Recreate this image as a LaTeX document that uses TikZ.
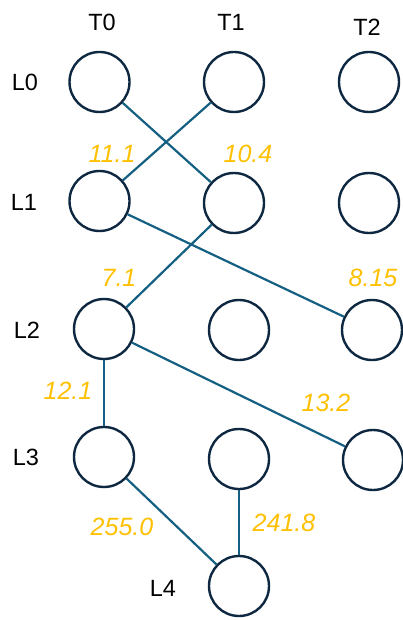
\documentclass[tikz,border=0pt]{standalone}
\usepackage{fontspec}
\setmainfont{Liberation Sans}
\definecolor{ringcol}{HTML}{0E2841}
\definecolor{linkcol}{HTML}{156082}
\definecolor{costcol}{HTML}{FFC000}
\tikzset{
  slot/.style={circle,draw=ringcol,line width=2.4pt,minimum size=60pt,inner sep=0pt},
  tag/.style={inner sep=0pt,font=\fontsize{23.5}{28}\selectfont},
  cost/.style={inner sep=0pt,text=costcol,font=\fontsize{25}{30}\selectfont\itshape},
  link/.style={draw=linkcol,line width=2.2pt}
}
\begin{document}
\begin{tikzpicture}[x=1pt,y=-1pt]
      \useasboundingbox (0,0) rectangle (403,620);
      % column and layer headings
      \draw
        (102,22) node[tag] (T0){T0}
        (231,22) node[tag] (T1){T1}
        (367,27) node[tag] (T2){T2}
        (25,82) node[tag] (L0){L0}
        (24,202) node[tag] (L1){L1}
        (27,330) node[tag] (L2){L2}
        (26,457) node[tag] (L3){L3}
        (163,588) node[tag] (L4){L4};
      % one circle per layer and column
      \draw
        (99.5,82) node[slot] (00){}
        (234,82) node[slot] (01){}
        (369,82) node[slot] (02){}
        (99.5,201) node[slot] (10){}
        (234,203) node[slot] (11){}
        (369,203) node[slot] (12){}
        (104,329) node[slot] (20){}
        (239,330) node[slot] (21){}
        (372,330) node[slot] (22){}
        (104,457) node[slot] (30){}
        (239,459) node[slot] (31){}
        (373,460) node[slot] (32){}
        (239,586) node[slot] (40){};
      \begin{scope}[link]
        \draw (00) to (11);
        \draw (01) to (10);
        \draw (11) to (20);
        \draw (10) to (22);
        \draw (20) to (30);
        \draw (20) to (32);
        \draw (30) to (40);
        \draw (31) to (40);
      \end{scope}
      % costs
      \draw
        (112,154) node[cost] (c0110){11.1}
        (248,154) node[cost] (c0011){10.4}
        (119,278) node[cost] (c1120){7.1}
        (373,278) node[cost] (c1022){8.15}
        (68,391) node[cost] (c2030){12.1}
        (326,403) node[cost] (c2032){13.2}
        (122,527) node[cost] (c3040){255.0}
        (284,523) node[cost] (c3140){241.8};
    \end{tikzpicture}
\end{document}
